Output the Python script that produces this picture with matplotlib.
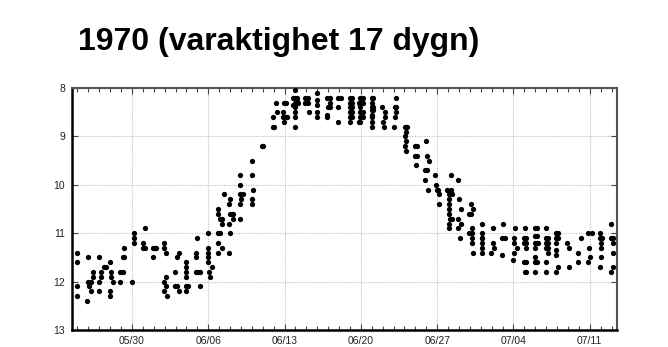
import datetime as dt
import matplotlib
matplotlib.use("Agg")
import matplotlib.pyplot as plt
import matplotlib.dates as mdates
from matplotlib import font_manager

# ---------------- data ----------------
title_text = "1970 (varaktighet 17 dygn)"
base_date = dt.datetime(1970, 5, 30)
x_start = dt.datetime(1970, 5, 24, 12)
x_end = dt.datetime(1970, 7, 13, 12)
x_tick_dates = ["1970-05-30", "1970-06-06", "1970-06-13", "1970-06-20",
                "1970-06-27", "1970-07-04", "1970-07-11"]

# sample times in days after 1970-05-30 00:00, and the readings at each time
column_day = [
    -5.0, -4.1, -4.0, -3.94, -3.8, -3.6, -3.0, -2.85, -2.6, -2.4,
    -2.05, -1.9, -1.7, -1.1, -0.8, -0.7, 0.0, 0.2, 1.0, 1.2,
    1.9, 1.95, 2.1, 2.25, 2.95, 3.1, 3.2, 3.95, 4.15, 4.35,
    4.95, 5.15, 5.9, 6.0, 6.1, 6.25, 7.0, 7.1, 7.15, 7.3,
    7.92, 8.07, 8.28, 8.44, 8.93, 9.0, 9.15, 9.29, 9.91, 9.97,
    10.21, 10.98, 11.13, 11.9, 12.05, 12.9, 13.0, 13.21, 13.27, 13.88,
    13.94, 13.97, 14.13, 14.25, 14.8, 14.95, 15.11, 15.26, 15.87, 16.17,
    16.27, 16.94, 17.86, 17.92, 18.01, 18.17, 18.87, 18.93, 19.15, 20.0,
    20.15, 20.85, 20.95, 21.15, 21.99, 22.14, 22.91, 23.0, 23.12, 23.21,
    24.04, 24.13, 24.22, 25.05, 25.14, 25.2, 25.96, 26.06, 26.17, 26.88,
    26.97, 27.09, 27.18, 27.28, 27.8, 27.89, 27.95, 28.1, 28.19, 28.93,
    29.08, 29.17, 29.24, 29.33, 29.94, 30.03, 30.09, 30.16, 30.94, 31.07,
    31.17, 31.26, 32.08, 32.15, 32.9, 33.09, 33.15, 33.2, 33.92, 34.0,
    34.2, 34.98, 35.07, 35.14, 35.29, 35.96, 36.06, 36.15, 36.97, 37.13,
    37.28, 37.98, 38.14, 38.9, 39.11, 39.88, 40.12, 40.94, 41.17, 41.86,
    41.95, 42.02, 42.17, 42.94, 43.0, 43.1, 43.92, 44.1,
]
column_levels = [
    [11.4, 11.6, 12.1, 12.3], [12.4], [11.5, 12.0], [12.1], [12.0, 12.2],
    [11.8, 11.9], [11.5, 12.0, 12.2], [11.8, 11.9], [11.7], [11.7],
    [11.6, 12.2, 12.3], [11.8, 11.9], [12.0], [11.8, 12.0], [11.5, 11.8],
    [11.3, 11.5], [12.0], [11.0, 11.1, 11.2], [11.2, 11.3], [10.9, 11.3],
    [11.3], [11.5], [11.3], [11.3], [11.2, 11.3, 12.0, 12.2],
    [11.4, 11.9, 12.1], [12.3], [11.8, 12.1], [11.5, 12.1], [11.4, 12.2],
    [11.6, 11.7, 11.8, 11.9, 12.1, 12.2], [12.1], [11.4, 11.5, 11.8], [11.1], [11.8],
    [11.8, 12.1], [11.0, 11.3, 11.4, 11.5, 11.6], [11.8], [11.9], [11.7],
    [10.5, 10.6, 11.0, 11.2, 11.4], [10.7, 11.0], [10.7, 10.8, 11.3], [10.2], [10.4, 10.8, 11.4],
    [10.3, 10.6, 11.0], [10.6], [10.6, 10.7], [9.8, 10.0, 10.2, 10.4, 10.7], [10.3],
    [10.2], [9.5, 9.8, 10.3, 10.4], [10.1], [9.2], [9.2],
    [8.6, 8.8], [8.8], [8.3], [8.5], [8.5, 8.6],
    [8.3], [8.7], [8.3, 8.6], [8.6], [8.2, 8.35],
    [8.05, 8.2, 8.3, 8.4, 8.5, 8.6, 8.8], [8.2, 8.27], [8.3], [8.2, 8.3], [8.2, 8.3],
    [8.5], [8.1, 8.25, 8.35, 8.5, 8.6], [8.2], [8.55, 8.6], [8.4],
    [8.2, 8.3, 8.4], [8.4, 8.7], [8.2], [8.2], [8.2, 8.3, 8.4, 8.5, 8.6, 8.7],
    [8.2, 8.3, 8.4, 8.5, 8.6], [8.3, 8.7], [8.2, 8.3, 8.4, 8.5, 8.6, 8.7], [8.2, 8.3, 8.5, 8.6],
    [8.2, 8.3, 8.4, 8.45, 8.55, 8.6, 8.7, 8.8],
    [8.2, 8.4, 8.45], [8.4], [8.7], [8.8], [8.5, 8.6],
    [8.8], [8.4, 8.6], [8.2, 8.4, 8.5], [8.8, 9.0, 9.2], [8.8, 8.9, 9.1, 9.3],
    [8.8], [9.2, 9.4], [9.6], [9.2, 9.4], [9.7, 9.9],
    [9.1], [9.4, 9.7], [10.1], [9.5], [9.8],
    [10.0], [10.1], [10.1], [10.2, 10.4], [10.1],
    [10.2, 10.3, 10.4, 10.5, 10.6, 10.8, 10.9], [10.7], [9.8, 10.1], [10.2, 10.7], [9.9, 10.7, 10.9],
    [10.3], [11.1], [10.5, 10.8], [10.6, 11.0], [10.4, 10.6],
    [10.9, 11.0, 11.1, 11.2], [10.5, 11.4], [10.8, 11.0, 11.1, 11.2, 11.3, 11.4], [11.1], [11.4],
    [11.2], [10.9], [11.3], [11.1, 11.45], [10.8],
    [11.1], [11.55], [11.1, 11.2, 11.4], [10.9], [11.3],
    [11.1, 11.2, 11.6], [10.9, 11.8], [11.1, 11.2, 11.3, 11.6, 11.8],
    [10.9, 11.05, 11.2, 11.3, 11.5, 11.6, 11.8], [10.9, 11.05, 11.2, 11.6],
    [11.2], [10.9, 11.1, 11.2, 11.3, 11.6, 11.8], [11.1, 11.2, 11.3, 11.4],
    [11.0, 11.1, 11.2, 11.35, 11.45, 11.8], [11.0, 11.1, 11.7],
    [11.2], [11.3, 11.7], [11.4, 11.6], [11.1], [11.0, 11.6],
    [11.3], [11.5], [11.0], [11.0, 11.1, 11.7], [11.2, 11.3, 11.5],
    [11.1], [10.8, 11.1, 11.8], [11.1, 11.2, 11.4, 11.7],
]
y_ticks = [8, 9, 10, 11, 12, 13]

# ---------------- fonts ----------------
available = {f.name for f in font_manager.fontManager.ttflist}
if "Liberation Sans Narrow" in available:
    font_fam = "Liberation Sans Narrow"
    title_size, tick_size = 27, 8.0
else:
    font_fam = "Liberation Sans"
    title_size, tick_size = 23, 7.5
plt.rcParams["font.family"] = [font_fam, "DejaVu Sans"]

# ---------------- figure ----------------
fig = plt.figure(figsize=(6.68, 3.47), dpi=100)
ax = fig.add_axes([0.1078, 0.049, 0.8159, 0.6974])

times, levels = [], []
for d, vals in zip(column_day, column_levels):
    for v in vals:
        times.append(base_date + dt.timedelta(days=d))
        levels.append(v)

ax.plot(times, levels, linestyle="none", marker="o", markersize=3.8,
        markerfacecolor="black", markeredgewidth=0, color="black", zorder=3)

ax.set_xlim(x_start, x_end)
ax.set_ylim(13, 8)
ax.set_yticks(y_ticks)
ax.set_yticklabels([str(t) for t in y_ticks])

major_dates = [dt.datetime.strptime(s, "%Y-%m-%d") for s in x_tick_dates]
ax.set_xticks(major_dates)
ax.xaxis.set_major_formatter(mdates.DateFormatter("%m/%d"))
ax.xaxis.set_minor_locator(mdates.DayLocator())

ax.grid(True, which="major", linestyle=(0, (1, 1.2)), color="#bdbdbd", linewidth=0.8)
ax.tick_params(axis="x", which="both", direction="in", top=True, bottom=True,
               labelsize=tick_size, labelcolor="#222222", color="#444444", pad=4)
ax.tick_params(axis="x", which="minor", length=3, width=0.8)
ax.tick_params(axis="x", which="major", length=4, width=0.8)
ax.tick_params(axis="y", which="major", direction="in", left=True, right=True,
               labelsize=tick_size, labelcolor="#222222", color="#444444",
               length=4, width=0.8, pad=5)

for side in ["left", "bottom"]:
    ax.spines[side].set_linewidth(1.8)
    ax.spines[side].set_color("black")
for side in ["top", "right"]:
    ax.spines[side].set_linewidth(1.5)
    ax.spines[side].set_color("#555555")

fig.text(0.117, 0.856, title_text, fontsize=title_size, fontweight="bold",
         ha="left", va="baseline", color="black")

fig.savefig("out.png", dpi=100, facecolor="white")
